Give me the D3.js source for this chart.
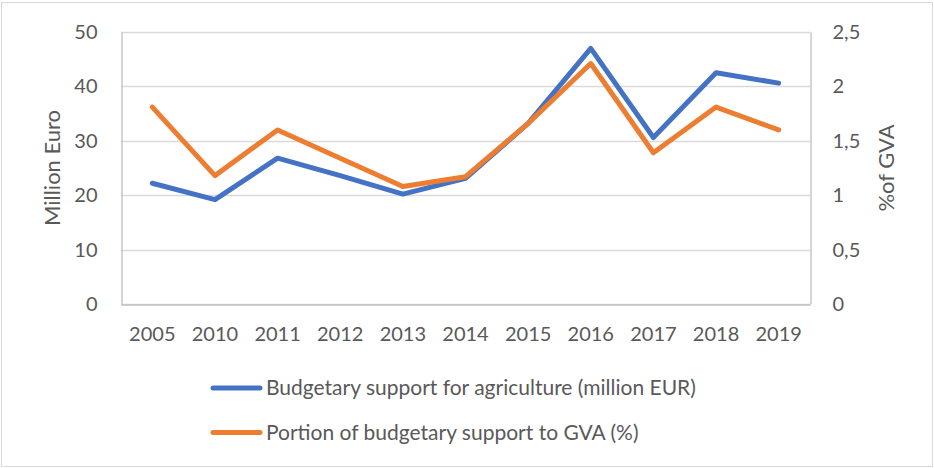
<!DOCTYPE html>
<html>
<head>
<meta charset="utf-8">
<script src="https://cdn.jsdelivr.net/npm/d3@7"></script>
<style>
  html, body { margin: 0; padding: 0; background: #fff; }
  svg { display: block; }
  text { font-family: Lato, "Open Sans", sans-serif; fill: #595959; }
</style>
</head>
<body>
<script>
// Years on the category axis
const years = ["2005", "2010", "2011", "2012", "2013", "2014", "2015", "2016", "2017", "2018", "2019"];
// Budgetary support for agriculture, million EUR (left axis)
const supportMillionEur = [22.2, 19.2, 26.8, 23.6, 20.2, 23.1, 33.2, 47.0, 30.6, 42.5, 40.6];
// Portion of budgetary support to GVA, % (right axis)
const supportShareGva = [1.81, 1.18, 1.60, 1.34, 1.08, 1.17, 1.66, 2.21, 1.39, 1.81, 1.60];
// Tick values for both value axes
const leftTicks = [0, 10, 20, 30, 40, 50];
const rightTicks = [0, 0.5, 1, 1.5, 2, 2.5];
const seriesNames = ["Budgetary support for agriculture (million EUR)", "Portion of budgetary support to GVA (%)"];

const W = 934, H = 468;
const plot = { left: 121, right: 810, top: 32, bottom: 304 };
const blue = "#4472C4", orange = "#ED7D31";

const svg = d3.select("body").append("svg").attr("width", W).attr("height", H);

// Chart frame
svg.append("rect").attr("x", 1.5).attr("y", 2.5).attr("width", W - 3).attr("height", H - 4)
  .attr("fill", "#fff").attr("stroke", "#d9d9d9").attr("stroke-width", 1);

const x = d3.scaleBand().domain(years).range([plot.left, plot.right]);
const yL = d3.scaleLinear().domain([0, 50]).range([plot.bottom, plot.top]);
const yR = d3.scaleLinear().domain([0, 2.5]).range([plot.bottom, plot.top]);

// Horizontal gridlines
svg.append("g").selectAll("line").data(leftTicks).join("line")
  .attr("x1", plot.left).attr("x2", plot.right)
  .attr("y1", d => Math.round(yL(d)) + 0.5).attr("y2", d => Math.round(yL(d)) + 0.5)
  .attr("stroke", "#d9d9d9").attr("stroke-width", 1.3);

// Left axis
const gL = svg.append("g").attr("transform", `translate(${plot.left + 0.5},0)`)
  .call(d3.axisLeft(yL).tickValues(leftTicks).tickSize(0).tickPadding(24));
gL.select(".domain").attr("stroke", "#bfbfbf").attr("stroke-width", 1.3);
gL.selectAll("text").style("font-size", "20px").attr("fill", "#595959")
  .style("font-family", "Lato, sans-serif");

// Right axis
const fmtComma = d => String(d).replace(".", ",");
const gR = svg.append("g").attr("transform", `translate(${plot.right + 0.5},0)`)
  .call(d3.axisRight(yR).tickValues(rightTicks).tickSize(0).tickPadding(22).tickFormat(fmtComma));
gR.select(".domain").attr("stroke", "#bfbfbf").attr("stroke-width", 1.3);
gR.selectAll("text").style("font-size", "20px").attr("fill", "#595959")
  .style("font-family", "Lato, sans-serif");

// Bottom axis
const gB = svg.append("g").attr("transform", `translate(0,${plot.bottom + 0.5})`)
  .call(d3.axisBottom(x).tickSize(0).tickPadding(22));
gB.select(".domain").attr("stroke", "#bfbfbf").attr("stroke-width", 1.3);
gB.selectAll("text").style("font-size", "20px").attr("fill", "#595959")
  .style("font-family", "Lato, sans-serif");

// Axis titles
svg.append("text").attr("transform", `translate(60,168) rotate(-90)`)
  .attr("text-anchor", "middle").style("font-size", "22px").text("Million Euro");
svg.append("text").attr("transform", `translate(894,168) rotate(-90)`)
  .attr("text-anchor", "middle").style("font-size", "22px").text("%of GVA");

// Series lines
const cx = d => x(d) + x.bandwidth() / 2;
const lineL = d3.line().x((d, i) => cx(years[i])).y(d => yL(d));
const lineR = d3.line().x((d, i) => cx(years[i])).y(d => yR(d));

svg.append("path").datum(supportMillionEur).attr("d", lineL)
  .attr("fill", "none").attr("stroke", blue).attr("stroke-width", 5)
  .attr("stroke-linejoin", "round").attr("stroke-linecap", "round");
svg.append("path").datum(supportShareGva).attr("d", lineR)
  .attr("fill", "none").attr("stroke", orange).attr("stroke-width", 5)
  .attr("stroke-linejoin", "round").attr("stroke-linecap", "round");

// Legend
const legend = svg.append("g");
const legendRows = [
  { name: seriesNames[0], color: blue, y: 388 },
  { name: seriesNames[1], color: orange, y: 432.5 }
];
legendRows.forEach(r => {
  legend.append("line").attr("x1", 213).attr("x2", 260).attr("y1", r.y).attr("y2", r.y)
    .attr("stroke", r.color).attr("stroke-width", 5).attr("stroke-linecap", "round");
  legend.append("text").attr("x", 266).attr("y", r.y + 7).style("font-size", "21px").text(r.name);
});
</script>
</body>
</html>
